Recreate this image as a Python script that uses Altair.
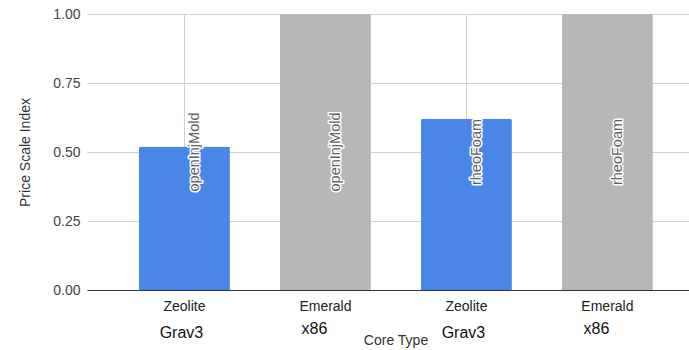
import altair as alt
import pandas as pd

# Benchmark runs: core type, platform, workload and normalised price index
chips = ["Zeolite", "Emerald", "Zeolite", "Emerald"]
platforms = ["Grav3", "x86", "Grav3", "x86"]
workloads = ["openInjMold", "openInjMold", "rheoFoam", "rheoFoam"]
price_index = [0.52, 1.00, 0.62, 1.00]

df = pd.DataFrame({
    "chip": chips,
    "platform": platforms,
    "workload": workloads,
    "price": price_index,
})
df["key"] = df["workload"] + "|" + df["chip"]

FONT = "Liberation Sans"
W, H = 602, 276

band = alt.Scale(paddingInner=0.355, paddingOuter=0.3125, align=0.59)
yscale = alt.Scale(domain=[0, 1], nice=False)

x_axis = alt.Axis(
    title="Core Type",
    labelExpr="split(datum.label, '|')[1]",
    labelAngle=0, labelFontSize=14, labelColor="#222", labelPadding=9,
    ticks=False, domainColor="#333", domainWidth=1,
    grid=True, gridColor="#d0d0d0",
    titleFontSize=14, titleColor="#333", titleFontWeight="normal",
    titleX=308.5, titleY=50.5, titleBaseline="middle",
)
y_axis = alt.Axis(
    title="Price Scale Index",
    values=[0, 0.25, 0.5, 0.75, 1.0], format=".2f",
    labelFontSize=14, labelColor="#444", labelPadding=7,
    ticks=False, domain=False,
    grid=True, gridColor="#d0d0d0",
    titleFontSize=14, titleColor="#333", titleFontWeight="normal",
    titleX=-62, titleBaseline="middle",
)

base = alt.Chart(df)
xenc = alt.X("key:N", sort=None, scale=band, axis=x_axis)

bars = base.mark_bar(cornerRadiusTopLeft=2, cornerRadiusTopRight=2).encode(
    x=xenc,
    y=alt.Y("price:Q", scale=yscale, axis=y_axis),
    color=alt.Color(
        "chip:N",
        scale=alt.Scale(domain=["Zeolite", "Emerald"], range=["#4a86e8", "#b7b7b7"]),
        legend=None,
    ),
)

# Workload names written up the middle of each bar, with a white halo
label_enc = dict(
    x=xenc,
    y=alt.Y(datum=0.5, scale=yscale, axis=y_axis),
    text="workload:N",
)
halo = base.mark_text(
    angle=270, fontSize=14.5, dy=11, align="center", baseline="middle",
    fill="white", stroke="white", strokeWidth=3, strokeJoin="round",
).encode(**label_enc)
front = base.mark_text(
    angle=270, fontSize=14.5, dy=11, align="center", baseline="middle",
    fill="#5f5f5f",
).encode(**label_enc)


# Second row of category labels: the platform of each run
def platform_row(name, ypix, shift):
    return base.transform_filter(alt.datum.platform == name).mark_text(
        fontSize=16, color="#111", align="center", baseline="middle", dx=shift,
    ).encode(
        x=xenc,
        y=alt.value(ypix),
        text="platform:N",
    )


chart = alt.layer(
    bars, halo, front,
    platform_row("Grav3", 318.5, -3),
    platform_row("x86", 314.5, -11),
).properties(
    width=W,
    height=H,
    autosize=alt.AutoSizeParams(type="none"),
    padding={"left": 87, "top": 14, "right": 0, "bottom": 60},
).configure(font=FONT).configure_view(stroke=None)

chart.save("out.html", embed_options={"renderer": "svg", "actions": False})
